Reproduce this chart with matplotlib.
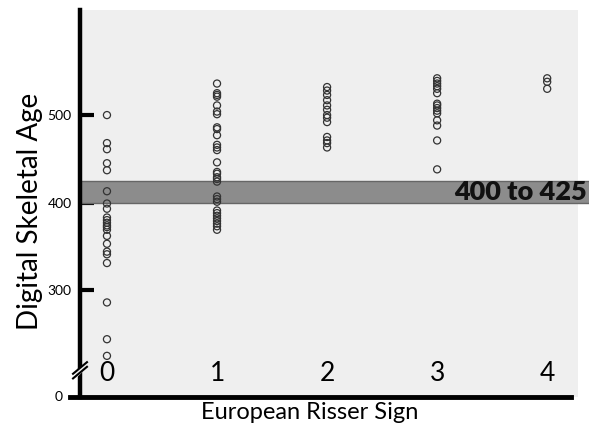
import matplotlib.pyplot as plt
from matplotlib.lines import Line2D

plt.rcParams['font.family'] = ['Lato', 'DejaVu Sans']

# Digital skeletal age by European Risser sign
risser = [0, 1, 2, 3, 4]
age_r0 = [500, 468, 461, 445, 437, 413, 399, 393, 383, 380, 377, 374, 372, 369,
          362, 353, 344, 341, 331, 286, 244, 225]
age_r1 = [536, 525, 523, 521, 511, 504, 501, 486, 484, 477, 466, 463, 460, 446,
          435, 433, 429, 427, 424, 407, 404, 401, 391, 388, 385, 382, 379, 376,
          373, 369]
age_r2 = [532, 528, 523, 517, 511, 506, 500, 497, 492, 475, 471, 468, 463]
age_r3 = [542, 539, 536, 533, 530, 525, 513, 511, 508, 505, 502, 494, 488, 471, 438]
age_r4 = [542, 538, 530]
ages = [age_r0, age_r1, age_r2, age_r3, age_r4]

band_lo, band_hi = 400, 425
ytick_vals = [300, 400, 500]
y_bottom = 178  # axis is broken: bottom edge is labelled 0

fig = plt.figure(figsize=(5.89, 4.32), dpi=100)
ax = fig.add_axes([80/589, 35/432, 498/589, 387/432])
ax.set_facecolor('#efefef')

for r, vals in zip(risser, ages):
    ax.scatter([r]*len(vals), vals, s=26, facecolors='none', edgecolors='#333333',
               linewidths=0.9, zorder=3)

# highlighted band, running past the plot edge
ax.axhspan(band_lo, band_hi, xmin=0, xmax=1.025, facecolor='#8c8c8c',
           edgecolor='#666666', linewidth=1, clip_on=False, zorder=2)
ax.text(1.017, (band_lo + band_hi)/2, '400 to 425', transform=ax.get_yaxis_transform(),
        ha='right', va='center', fontsize=19.5, fontweight='heavy', color='#111111',
        zorder=4, clip_on=False)

ax.set_xlim(-0.245, 4.28)
ax.set_ylim(y_bottom, 620)

for s in ['top', 'right', 'bottom']:
    ax.spines[s].set_visible(False)
ax.spines['left'].set_linewidth(3.2)

# bottom axis line, slightly extended left of the y axis
ax.add_line(Line2D([-0.02, 0.985], [0, 0], transform=ax.transAxes, color='black',
                   linewidth=3.5, clip_on=False, zorder=5))
ax.text(-0.035, 0, '0', transform=ax.transAxes, ha='right', va='center', fontsize=10)

ax.set_yticks(ytick_vals)
ax.set_yticklabels([str(v) for v in ytick_vals], fontsize=10)
ax.tick_params(axis='y', direction='in', length=10, width=3, pad=6)

# x tick labels sit inside the plot
ax.set_xticks(risser)
ax.set_xticklabels([str(r) for r in risser], fontsize=19)
ax.tick_params(axis='x', length=0, pad=-26)

# axis break marks
for dy in (0, 0.012):
    ax.add_line(Line2D([-0.014, 0.014], [0.048 + dy, 0.078 + dy], transform=ax.transAxes,
                       color='black', linewidth=1.5, clip_on=False, zorder=6))
ax.fill([-0.008, 0.008, 0.008, -0.008], [0.063, 0.083, 0.071, 0.051],
        transform=ax.transAxes, color='#efefef', clip_on=False, zorder=5.5)

ax.set_xlabel('European Risser Sign', fontsize=17)
ax.xaxis.set_label_coords(0.462, -0.04)
ax.xaxis.label.set_va('center')
ax.set_ylabel('Digital Skeletal Age', fontsize=20)
ax.yaxis.set_label_coords(-0.1, 0.48)
ax.yaxis.label.set_va('center')

fig.savefig('out.png', dpi=100)
